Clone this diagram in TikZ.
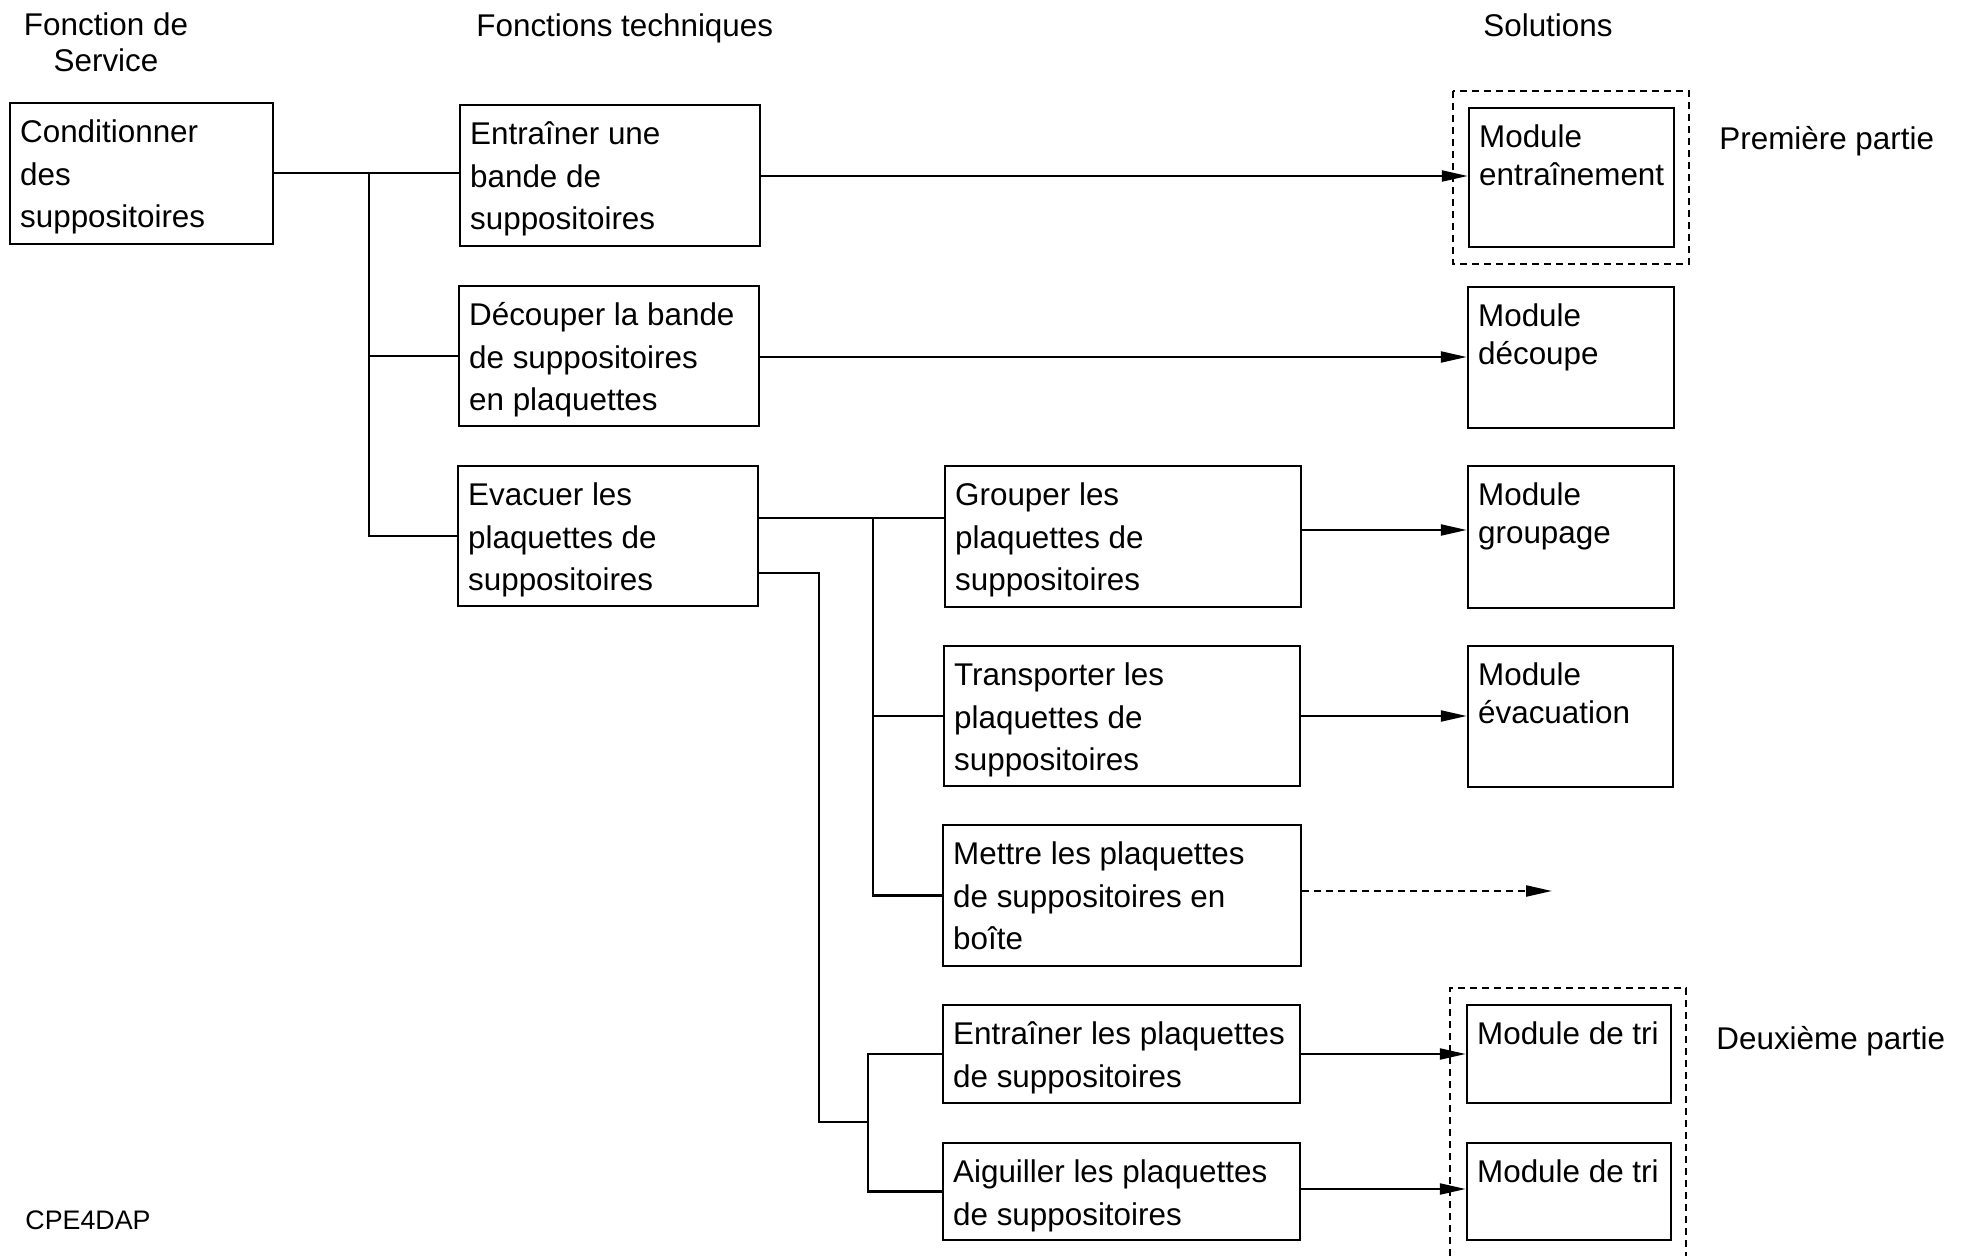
\documentclass[tikz,border=0pt]{standalone}
\usepackage{fontspec}
\setmainfont{Liberation Sans}
\usetikzlibrary{arrows.meta,fit}
\begin{document}
\begin{tikzpicture}[x=0.5pt,y=-0.5pt,
  boxf/.style={draw, line width=1.25pt, inner sep=0pt},
  txt/.style={anchor=north west, inner sep=0pt, align=left, font=\fontsize{15.7}{21.25}\selectfont},
  txtm/.style={txt, font=\fontsize{15.7}{18.8}\selectfont},
  hdr/.style={inner sep=0pt, anchor=base west, font=\fontsize{15.7}{18}\selectfont},
  con/.style={line width=1.15pt},
  arr/.style={con, -{Triangle[length=13pt,width=5.5pt]}},
  grpbox/.style={line width=1.1pt, dash pattern=on 3.5pt off 2.5pt}]
\useasboundingbox (0,0) rectangle (1966,1256);
\newcommand\mybox[7]{%
  \node[boxf, fit={(#2,#3)(#4,#5)}] (#1) {};
  \node[#7] (#1-txt) at ([shift={(11,8.5)}]#1.north west) {\rule{0pt}{16pt}#6};}
% headers
\node[inner sep=0pt, anchor=north, align=center, font=\fontsize{15.7}{18}\selectfont] (h1) at (106,3) {\rule{0pt}{16pt}Fonction de\\Service};
\node[hdr] (h2) at (476,37) {Fonctions techniques};
\node[hdr] (h3) at (1483,37) {Solutions};
\node[hdr] (p1) at (1719,150) {Première partie};
\node[hdr] (p2) at (1716,1049) {Deuxième partie};
\node[inner sep=0pt, anchor=base west, font=\fontsize{13.4}{15}\selectfont] (cpe) at (25,1229) {CPE4DAP};
% function boxes
\mybox{cond}{10}{103}{273}{244}{Conditionner\\des\\suppositoires}{txt}
\mybox{ent}{460}{105}{760}{246}{Entraîner une\\bande de\\suppositoires}{txt}
\mybox{dec}{459}{286}{759}{426}{Découper la bande\\de suppositoires\\en plaquettes}{txt}
\mybox{eva}{458}{466}{758}{606}{Evacuer les\\plaquettes de\\suppositoires}{txt}
\mybox{grp}{945}{466}{1301}{607}{Grouper les\\plaquettes de\\suppositoires}{txt}
\mybox{trn}{944}{646}{1300}{786}{Transporter les\\plaquettes de\\suppositoires}{txt}
\mybox{mettre}{943}{825}{1301}{966}{Mettre les plaquettes\\de suppositoires en\\boîte}{txt}
\mybox{etp}{943}{1005}{1300}{1103}{Entraîner les plaquettes\\de suppositoires}{txt}
\mybox{aig}{943}{1143}{1300}{1240}{Aiguiller les plaquettes\\de suppositoires}{txt}
% modules
\mybox{ma}{1469}{108}{1674}{247}{Module\\entraînement}{txtm}
\mybox{mb}{1468}{287}{1674}{428}{Module\\découpe}{txtm}
\mybox{mc}{1468}{466}{1674}{608}{Module\\groupage}{txtm}
\mybox{md}{1468}{646}{1673}{787}{Module\\évacuation}{txtm}
\mybox{me}{1467}{1005}{1671}{1103}{Module de tri}{txtm}
\mybox{mf}{1467}{1143}{1671}{1240}{Module de tri}{txtm}
% dashed groups
\draw[grpbox] (1453,91) rectangle (1689,264);
\draw[grpbox] (1450,1256) -- (1450,988) -- (1686,988) -- (1686,1256);
% tree connectors
\coordinate (j1) at (369,173);
\draw[con] (cond.east |- 0,173) -- (ent.west |- 0,173);
\draw[con] (j1) |- (dec.west);
\draw[con] (j1) |- (eva.west);
\coordinate (j2) at (873,518);
\draw[con] (eva.east |- 0,518) -- (grp.west |- 0,518);
\draw[con] (j2) |- (trn.west);
\draw[con] (j2) |- (mettre.west);
\coordinate (j3) at (868,1122);
\draw[con] (eva.east |- 0,573) -| (819,1122) -- (j3);
\draw[con] (j3) |- (etp.west);
\draw[con] (j3) |- (aig.west);
% arrows to modules
\draw[arr] (ent.east |- 0,176) -- (ma.west |- 0,176);
\draw[arr] (dec.east |- 0,357) -- (mb.west |- 0,357);
\draw[arr] (grp.east |- 0,530) -- (mc.west |- 0,530);
\draw[arr] (trn.east |- 0,716) -- (md.west |- 0,716);
\coordinate (free) at (1552,891);
\draw[arr, dash pattern=on 3.5pt off 2.5pt] (mettre.east |- free) -- (free);
\draw[arr] (etp.east |- 0,1054) -- (me.west |- 0,1054);
\draw[arr] (aig.east |- 0,1189) -- (mf.west |- 0,1189);
\end{tikzpicture}
\end{document}
